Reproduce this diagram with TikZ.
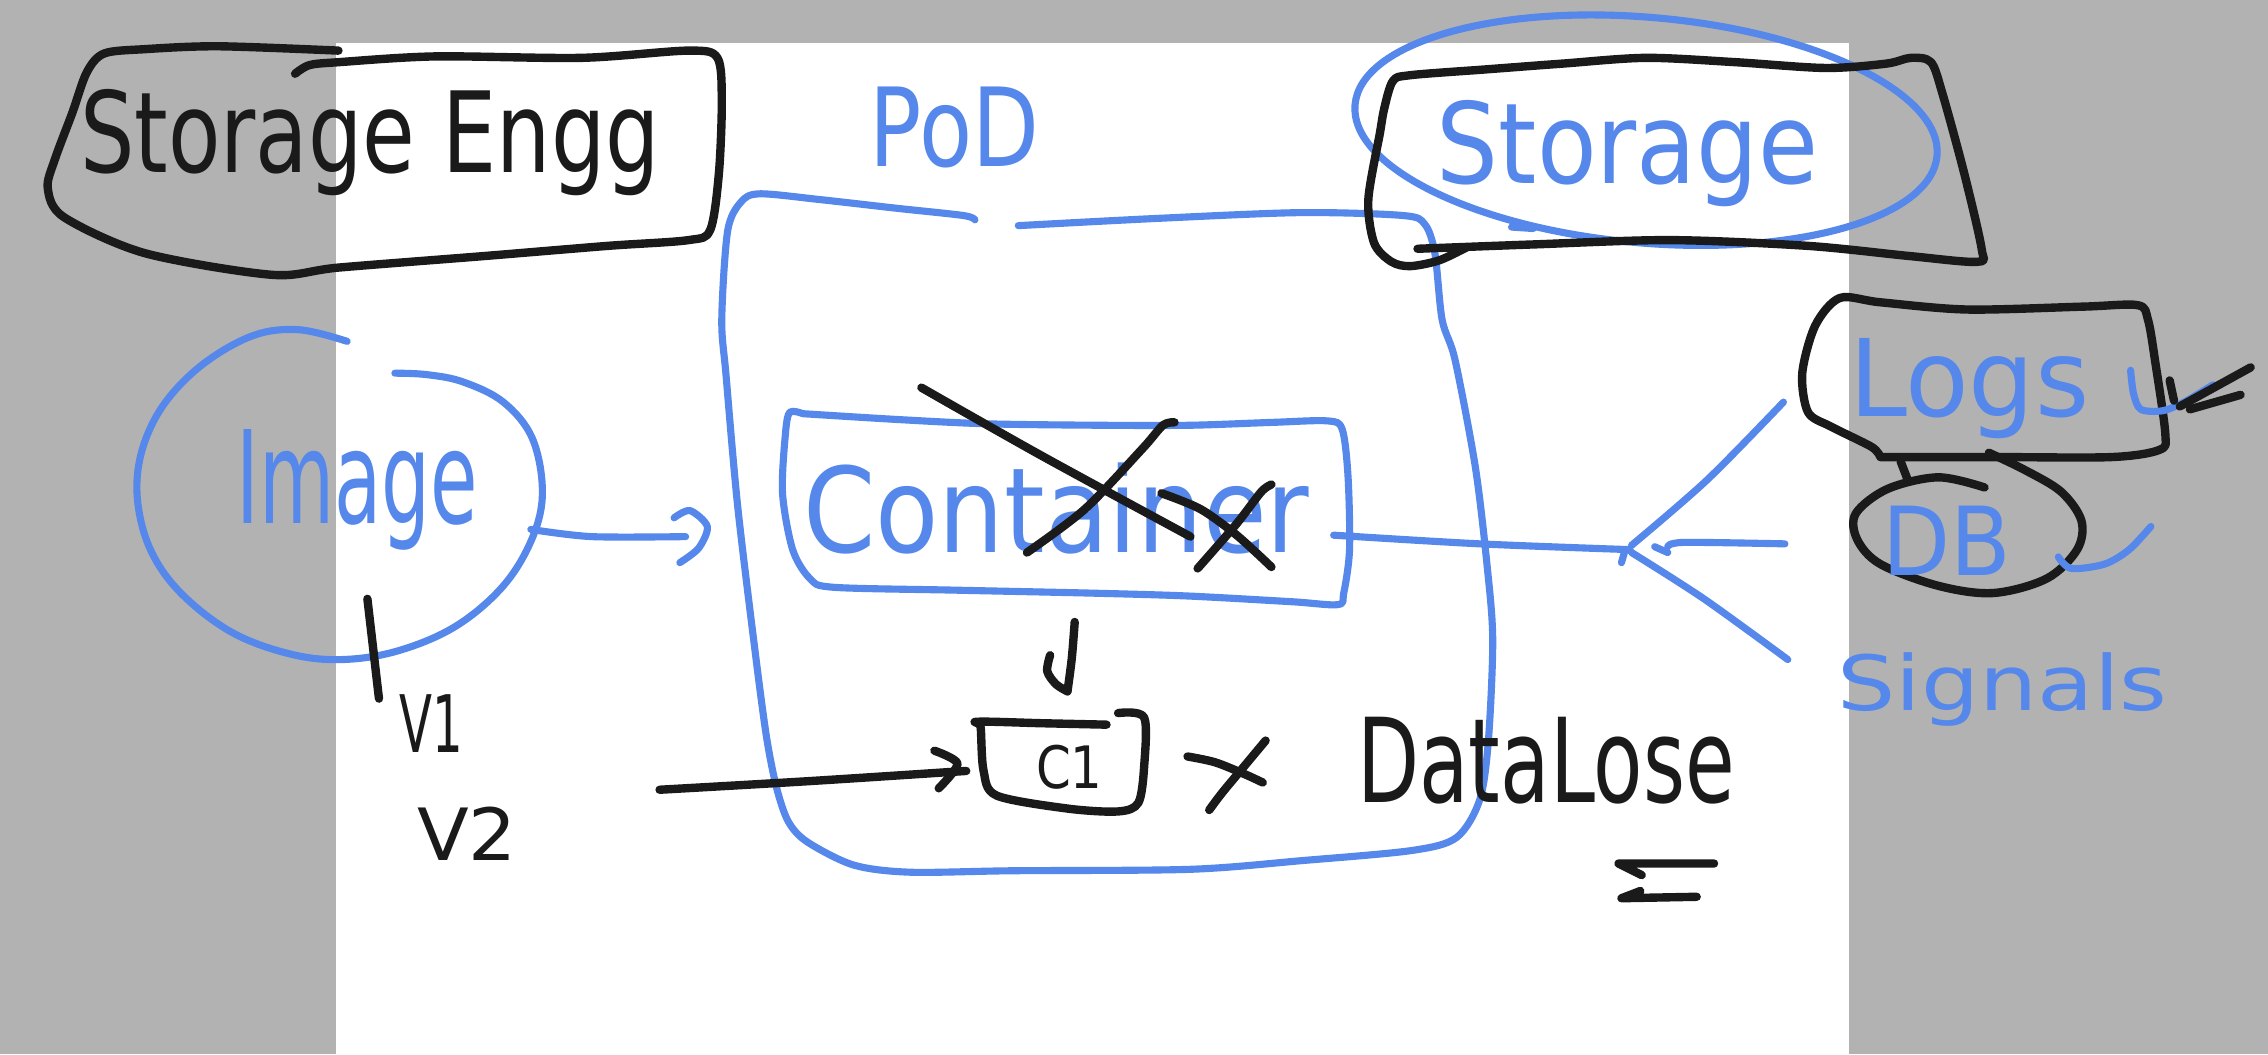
\documentclass[tikz,border=0pt]{standalone}
\usepackage{fontspec}
\setmainfont{DejaVu Sans}
\usepackage{graphicx}
\definecolor{inkblue}{HTML}{5588EA}
\definecolor{inkblack}{HTML}{1A1A1A}
\definecolor{padgray}{HTML}{B2B2B2}
\newcommand{\hw}[3]{\resizebox{#1cm}{#2cm}{#3}}
\tikzset{
  bl/.style={draw=inkblue, line width=2.8pt, line cap=round, line join=round},
  bk/.style={draw=inkblack, line width=3.3pt, line cap=round, line join=round},
  lblb/.style={text=inkblue, inner sep=0pt, anchor=base west},
  lblk/.style={text=inkblack, inner sep=0pt, anchor=base west},
}
\begin{document}
\begin{tikzpicture}[x=0.02cm,y=-0.02cm]
% canvas
\fill[padgray] (0,0) rectangle (1568,728.7);
\fill[white] (232,30) rectangle (1278,728.7);
\useasboundingbox (0,0) rectangle (1568,728.7);

% ---------- Storage Engg ----------
\draw[bk] plot[smooth, tension=0.5] coordinates {(234,35) (151,32) (100,34) (72,37) (60,50) (50,78) (38,110) (33,130) (44,150) (100,175) (188,190) (234,185) (335,177) (420,170) (476,166) (491,159) (497,120) (499,70) (496,40) (476,35) (402,40) (301,39) (234,43) (214,45) (204,51)};
\node[lblk] (se) at (55,119) {\hw{8.02}{1.15}{Storage Engg}};

% ---------- Pod ----------
\node[lblb] (podlbl) at (601,115) {\hw{2.34}{1.1}{PoD}};
\draw[bl] plot[smooth, tension=0.5] coordinates {(674,152) (666,149) (620,144) (567,138) (525,134) (512,140) (503,160) (499,221) (502,260) (510,350) (522,450) (530,510) (537,545) (545,568) (558,582) (590,598) (629,603) (700,602) (823,601) (900,595) (976,588) (1007,579) (1023,553) (1029,512) (1032,442) (1028,390) (1020,323) (1006,249) (997,221) (992,175) (985,155) (970,149) (899,147) (800,151) (704,156)};

% ---------- Storage ----------
\draw[bl, rotate around={-5:(1138,90)}] (1138,90) ellipse [x radius=4.04cm, y radius=1.56cm];
\draw[bk] plot[smooth, tension=0.5] coordinates {(980,172) (1060,169) (1155,166) (1250,170) (1320,177) (1367,181) (1370,172) (1358,120) (1343,65) (1335,43) (1321,40) (1304,44) (1262,47) (1200,43) (1138,40) (1080,44) (1027,48) (975,52) (963,56) (957,75) (954,92) (946,138) (950,168) (962,181) (975,184) (995,180) (1014,171)};
\node[lblb] (stlbl) at (993,127) {\hw{5.28}{1.15}{Storage}};
\draw[bl] (1045,157) -- (1060,158);

% ---------- Image ----------
\draw[bl] plot[smooth, tension=0.6] coordinates {(240,236) (207,228) (175,232) (140,252) (113,280) (98,312) (95,345) (104,380) (125,410) (160,437) (200,452) (236,456) (275,450) (315,433) (348,405) (368,372) (375,340) (368,303) (348,278) (320,264) (295,259) (273,258)};
\node[lblb] (imglbl) at (163,362) {\hw{3.34}{1.3}{Image}};
\coordinate (imgout) at (367,366);
\coordinate (podin) at (474,371);
\draw[bl] plot[smooth] coordinates {(imgout) (409,371) (podin)};
\draw[bl] plot[smooth] coordinates {(466,358) (477,353) (489,364) (483,379) (470,389)};

% versions
\draw[bk] (254,414) -- (262,483);
\node[lblk] (v1) at (276,520) {\hw{0.88}{0.8}{V1}};
\node[lblk] (v2) at (288,595) {\hw{1.38}{0.74}{V2}};

% ---------- Container ----------
\draw[bl] plot[smooth, tension=0.5] coordinates {(555,286) (620,290) (682,293) (760,294) (823,294) (880,292) (918,291) (928,297) (932,330) (933,380) (929,410) (925,418) (893,416) (820,412) (752,410) (660,408) (576,406) (560,400) (548,380) (541,341) (543,300) (546,285) (555,286)};
\node[lblb] (ctr) at (555,382) {\hw{7.0}{1.24}{Container}};
% crossing out
\draw[bk] plot[smooth] coordinates {(637,268) (720,315) (823,371)};
\draw[bk] plot[smooth] coordinates {(812,292) (804,294) (790,310) (750,352) (710,382)};
\draw[bk] plot[smooth] coordinates {(803,341) (830,352) (855,370) (879,392)};
\draw[bk] plot[smooth] coordinates {(879,335) (872,340) (855,362) (828,393)};

% ---------- C1 ----------
\draw[bk] plot[smooth] coordinates {(743,430) (741,455) (738,478)};
\draw[bk] plot[smooth] coordinates {(726,453) (724,464) (730,473) (738,478)};
\draw[bk] plot[smooth, tension=0.5] coordinates {(765,501) (720,500) (676,499) (678,503) (680,533) (689,550) (738,559) (773,561) (787,555) (791,530) (791,496) (773,493)};
\node[lblk] (c1) at (716,545) {\hw{0.92}{0.6}{C1}};
\coordinate (c1in) at (668,533);
\coordinate (v2out) at (456,546);
\draw[bk] plot[smooth] coordinates {(v2out) (560,540) (c1in)};
\draw[bk] plot[smooth] coordinates {(646,519) (662,528) (649,545)};
\draw[bk] plot[smooth] coordinates {(821,523) (840,527) (860,535) (873,541)};
\draw[bk] plot[smooth] coordinates {(875,512) (860,530) (845,548) (836,560)};
\node[lblk] (dl) at (938,555) {\hw{5.22}{1.18}{DataLose}};
\draw[bk] (1185,597) -- (1119,597) -- (1135,605);
\draw[bk] (1173,620) -- (1121,621) -- (1134,616);

% ---------- junction ----------
\coordinate (ctrout) at (922,370);
\coordinate (jn) at (1127,380);
\draw[bl] plot[smooth] coordinates {(ctrout) (1023,376) (jn)};
\draw[bl] plot[smooth] coordinates {(1128,377) (1180,332) (1233,278)};
\draw[bl] plot[smooth] coordinates {(1128,382) (1178,414) (1236,456)};
\draw[bl] plot[smooth] coordinates {(1234,376) (1164,375) (1153,378)};
\draw[bl] (1144,378) -- (1153,382);
\draw[bl] (1123,382) -- (1121,389);

% ---------- Logs ----------
\draw[bk] plot[smooth, tension=0.5] coordinates {(1300,316) (1380,316) (1460,316) (1493,311) (1497,300) (1490,250) (1485,221) (1478,211) (1440,212) (1360,214) (1300,209) (1272,206) (1255,225) (1246,258) (1250,285) (1266,295) (1294,309) (1300,316)};
\node[lblb] (logs) at (1278,288) {\hw{3.32}{1.08}{Logs}};
\draw[bl] plot[smooth] coordinates {(1473,256) (1475,272) (1480,283) (1495,284) (1510,278) (1530,266)};
\draw[bk] (1556,254) -- (1507,281);
\draw[bk] (1549,273) -- (1514,283);
\draw[bk] (1500,263) -- (1503,277);

% ---------- DB ----------
\draw[bk] (1314,319) -- (1319,332);
\draw[bk] plot[smooth, tension=0.55] coordinates {(1372,337) (1340,330) (1305,338) (1283,355) (1284,373) (1300,390) (1340,405) (1378,410) (1415,400) (1436,380) (1439,360) (1425,340) (1400,325) (1375,313)};
\node[lblb] (db) at (1301,398) {\hw{1.78}{0.96}{DB}};
\draw[bl] plot[smooth] coordinates {(1423,385) (1432,393) (1455,390) (1472,380) (1487,364)};

% ---------- Signals ----------
\node[lblb] (sig) at (1270,491) {\hw{4.56}{0.8}{Signals}};
\end{tikzpicture}
\end{document}
